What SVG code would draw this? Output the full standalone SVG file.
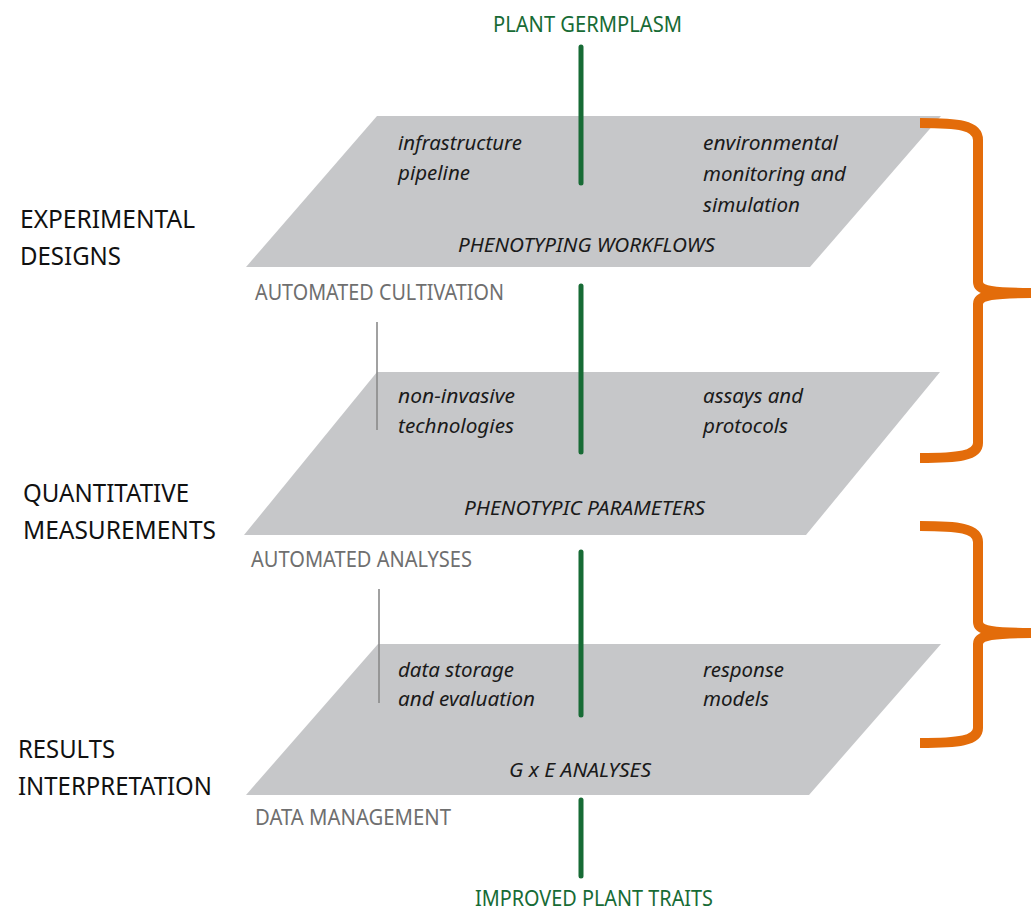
<svg xmlns="http://www.w3.org/2000/svg" width="1031" height="911" viewBox="0 0 1031 911">
  <style>
    .plane { fill: #c6c7c9; }
    .flow { stroke: #176b35; stroke-width: 5; stroke-linecap: round; fill: none; }
    .tick { stroke: #8a8a8a; stroke-width: 1.6; fill: none; }
    .brace { stroke: #e36c0a; stroke-width: 10; fill: none; stroke-linejoin: round; }
    text { font-family: "Noto Sans", "Liberation Sans", sans-serif; }
    .end { fill: #176b35; font-size: 21px; }
    .stage { fill: #111; font-size: 26px; }
    .layer { fill: #6f6f6f; font-size: 21px; }
    .item { fill: #1a1a1a; font-size: 20px; font-style: italic; }
    .title { fill: #1a1a1a; font-size: 20px; font-style: italic; }
  </style>

  <!-- planes -->
  <g id="plane-workflows">
    <polygon class="plane" points="377,116 941,116 810,267 246,267"/>
    <text class="item" x="398" y="150" textLength="124" lengthAdjust="spacingAndGlyphs">infrastructure</text>
    <text class="item" x="398" y="180" textLength="72" lengthAdjust="spacingAndGlyphs">pipeline</text>
    <text class="item" x="703" y="150" textLength="135" lengthAdjust="spacingAndGlyphs">environmental</text>
    <text class="item" x="703" y="181" textLength="143" lengthAdjust="spacingAndGlyphs">monitoring and</text>
    <text class="item" x="703" y="212" textLength="97" lengthAdjust="spacingAndGlyphs">simulation</text>
    <text class="title" x="458" y="252" textLength="257" lengthAdjust="spacingAndGlyphs">PHENOTYPING WORKFLOWS</text>
  </g>

  <g id="plane-parameters">
    <polygon class="plane" points="377,372 940,372 806,535 244,535"/>
    <text class="item" x="398" y="403" textLength="117" lengthAdjust="spacingAndGlyphs">non-invasive</text>
    <text class="item" x="398" y="433" textLength="116" lengthAdjust="spacingAndGlyphs">technologies</text>
    <text class="item" x="703" y="403" textLength="100" lengthAdjust="spacingAndGlyphs">assays and</text>
    <text class="item" x="703" y="433" textLength="85" lengthAdjust="spacingAndGlyphs">protocols</text>
    <text class="title" x="464" y="515" textLength="241" lengthAdjust="spacingAndGlyphs">PHENOTYPIC PARAMETERS</text>
  </g>

  <g id="plane-gxe">
    <polygon class="plane" points="378,644 941,644 809,795 246,795"/>
    <text class="item" x="398" y="677" textLength="116" lengthAdjust="spacingAndGlyphs">data storage</text>
    <text class="item" x="398" y="706" textLength="137" lengthAdjust="spacingAndGlyphs">and evaluation</text>
    <text class="item" x="703" y="677" textLength="81" lengthAdjust="spacingAndGlyphs">response</text>
    <text class="item" x="703" y="706" textLength="66" lengthAdjust="spacingAndGlyphs">models</text>
    <text class="title" x="509" y="777" textLength="142" lengthAdjust="spacingAndGlyphs">G x E ANALYSES</text>
  </g>

  <!-- layer captions -->
  <g id="layer-cultivation">
    <text class="layer" x="255" y="300" textLength="249" lengthAdjust="spacingAndGlyphs">AUTOMATED CULTIVATION</text>
  </g>
  <g id="layer-analyses">
    <text class="layer" x="251" y="567" textLength="221" lengthAdjust="spacingAndGlyphs">AUTOMATED ANALYSES</text>
  </g>
  <g id="layer-data">
    <text class="layer" x="255" y="825" textLength="196" lengthAdjust="spacingAndGlyphs">DATA MANAGEMENT</text>
  </g>

  <!-- stage labels -->
  <g id="stage-designs">
    <text class="stage" x="20" y="228" textLength="175" lengthAdjust="spacingAndGlyphs">EXPERIMENTAL</text>
    <text class="stage" x="20" y="265" textLength="101" lengthAdjust="spacingAndGlyphs">DESIGNS</text>
  </g>
  <g id="stage-measurements">
    <text class="stage" x="23" y="502" textLength="166" lengthAdjust="spacingAndGlyphs">QUANTITATIVE</text>
    <text class="stage" x="23" y="539" textLength="193" lengthAdjust="spacingAndGlyphs">MEASUREMENTS</text>
  </g>
  <g id="stage-results">
    <text class="stage" x="18" y="758" textLength="97" lengthAdjust="spacingAndGlyphs">RESULTS</text>
    <text class="stage" x="18" y="795" textLength="194" lengthAdjust="spacingAndGlyphs">INTERPRETATION</text>
  </g>

  <!-- flow endpoints -->
  <g id="germplasm">
    <text class="end" x="493" y="32" textLength="189" lengthAdjust="spacingAndGlyphs">PLANT GERMPLASM</text>
  </g>
  <g id="improved-traits">
    <text class="end" x="475" y="906" textLength="238" lengthAdjust="spacingAndGlyphs">IMPROVED PLANT TRAITS</text>
  </g>

  <!-- connectors -->
  <g id="connectors">
    <line class="flow" x1="581" y1="47" x2="581" y2="183"/>
    <line class="flow" x1="581" y1="286" x2="581" y2="452"/>
    <line class="flow" x1="581" y1="552" x2="581" y2="715"/>
    <line class="flow" x1="581" y1="800" x2="581" y2="876"/>
    <line class="tick" x1="377" y1="322" x2="377" y2="430"/>
    <line class="tick" x1="379" y1="589" x2="379" y2="703"/>
    <path class="brace" d="M920,123 C958,123 978,125 978,140 L978,282 C978,290 990,293 1031,293 M1031,293 C990,293 978,296 978,304 L978,443 C978,456 958,458 920,458"/>
    <path class="brace" d="M920,526 C958,526 978,528 978,542 L978,622 C978,630 990,633 1031,633 M1031,633 C990,633 978,636 978,644 L978,728 C978,741 958,743 920,743"/>
  </g>
</svg>
